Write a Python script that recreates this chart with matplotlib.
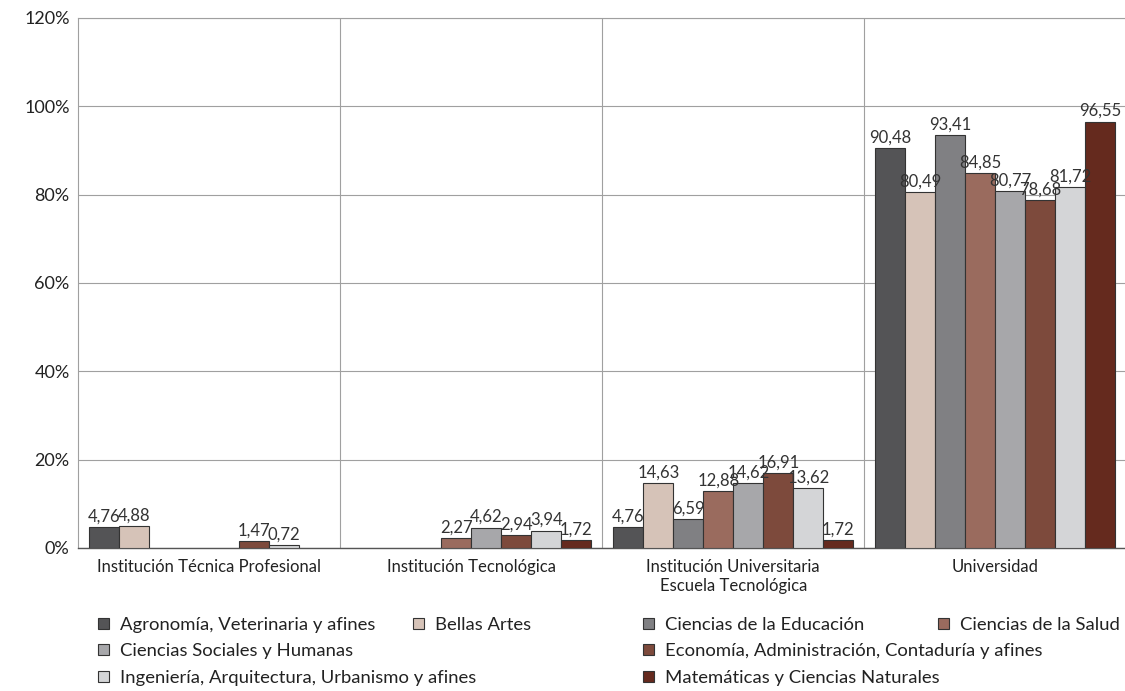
import matplotlib
matplotlib.use("Agg")
import matplotlib.pyplot as plt
from matplotlib.patches import Patch
import numpy as np

plt.rcParams['font.family'] = ['Lato', 'DejaVu Sans']

groups = ["Institución Técnica Profesional", "Institución Tecnológica",
          "Institución Universitaria\nEscuela Tecnológica", "Universidad"]
series = ["Agronomía, Veterinaria y afines", "Bellas Artes", "Ciencias de la Educación",
          "Ciencias de la Salud", "Ciencias Sociales y Humanas",
          "Economía, Administración, Contaduría y afines",
          "Ingeniería, Arquitectura, Urbanismo y afines", "Matemáticas y Ciencias Naturales"]
agronomia = [4.76, 0, 4.76, 90.48]
bellas = [4.88, 0, 14.63, 80.49]
educacion = [0, 0, 6.59, 93.41]
salud = [0, 2.27, 12.88, 84.85]
sociales = [0, 4.62, 14.62, 80.77]
economia = [1.47, 2.94, 16.91, 78.68]
ingenieria = [0.72, 3.94, 13.62, 81.72]
matematicas = [0, 1.72, 1.72, 96.55]
values = [agronomia, bellas, educacion, salud, sociales, economia, ingenieria, matematicas]
colors = ["#545456", "#d6c3b8", "#808083", "#9a6b5e", "#a7a7aa", "#7d4a3c", "#d4d5d7", "#652a1e"]

fig = plt.figure(figsize=(11.25, 6.91), dpi=100)
ax = fig.add_axes([0.0693, 0.207, 0.932, 0.767])

n = len(series)
bw = 0.1145
x = np.arange(len(groups))
handles = []
for i, (vals, c) in enumerate(zip(values, colors)):
    pos = x - n * bw / 2 + bw * (i + 0.5)
    v = np.array(vals, dtype=float)
    mask = v > 0
    ax.bar(pos[mask], v[mask], width=bw, color=c, edgecolor="#333333", linewidth=0.8, zorder=3)
    for p, val in zip(pos[mask], v[mask]):
        ax.text(p, val + 0.6, f"{val:.2f}".replace(".", ","), ha="center", va="bottom",
                fontsize=12, color="#333333", zorder=4)
    handles.append(Patch(facecolor=c, edgecolor="#333333", linewidth=0.8))

ax.set_xlim(-0.5, len(groups) - 0.5)
ax.set_ylim(0, 120)
ax.set_yticks(range(0, 121, 20))
ax.set_yticklabels([f"{t}%" for t in range(0, 121, 20)], fontsize=13, color="#222222")
ax.set_xticks(x)
ax.set_xticklabels(groups, fontsize=12, color="#222222", linespacing=1.25)
ax.tick_params(axis="both", length=0, pad=6)
ax.tick_params(axis="x", pad=8)
ax.yaxis.grid(True, color="#a0a0a0", linewidth=0.8, zorder=0)
for b in [0.5, 1.5, 2.5]:
    ax.axvline(b, color="#a0a0a0", linewidth=0.8, zorder=0)
for s in ["left", "right", "top"]:
    ax.spines[s].set_color("#a0a0a0")
    ax.spines[s].set_linewidth(0.8)
ax.spines["bottom"].set_color("#555555")
ax.spines["bottom"].set_linewidth(1.0)

# legend entries placed as Excel lays them out
legend_pos = [(98, 625), (413, 625), (643, 625), (938, 625),
              (98, 651), (643, 651), (98, 678), (643, 678)]
for h, lab, (px, py) in zip(handles, series, legend_pos):
    fig.legend([h], [lab], loc="center left",
               bbox_to_anchor=(px / 1125, 1 - py / 691), frameon=False,
               fontsize=13.3, handlelength=0.6, handleheight=0.6, handletextpad=0.6,
               borderpad=0, borderaxespad=0, labelcolor="#222222")

fig.savefig("out.png", dpi=100)
